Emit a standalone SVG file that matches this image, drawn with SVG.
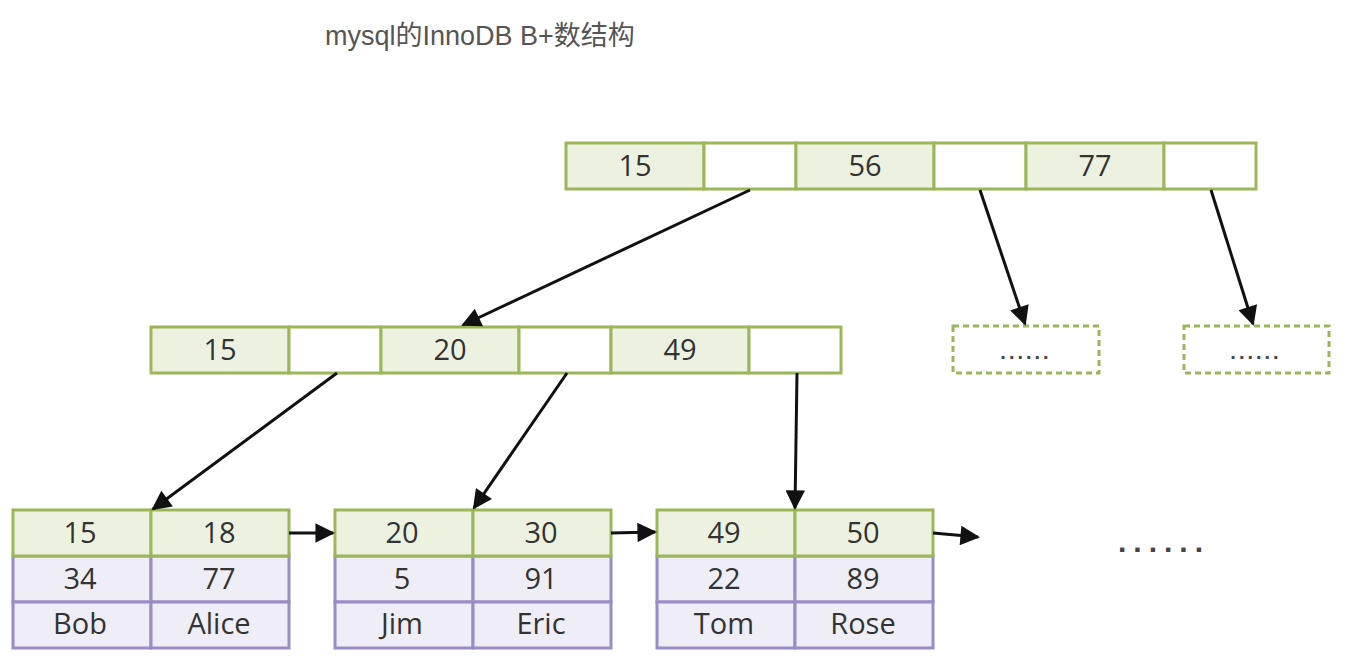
<svg xmlns="http://www.w3.org/2000/svg" width="1360" height="670" viewBox="0 0 1360 670">
<defs>
<style>
.g{fill:#edf2e0;stroke:#9bb75a;stroke-width:3}
.w{fill:#ffffff;stroke:#9bb75a;stroke-width:3}
.p{fill:#efedf5;stroke:#9a8cc4;stroke-width:3}
.d{fill:#ffffff;stroke:#9bb75a;stroke-width:3;stroke-dasharray:6 4}
.t{font-family:"Open Sans","Noto Sans","DejaVu Sans",sans-serif;font-size:29px;fill:#333;text-anchor:middle}
.dots{font-family:"Liberation Sans",sans-serif;font-size:20px;font-weight:bold;fill:#444;text-anchor:middle;letter-spacing:3px}
.c{stroke:#111;stroke-width:3;fill:none;marker-end:url(#ah)}
</style>
<marker id="ah" viewBox="0 0 10 10" refX="9" refY="5" markerWidth="7.5" markerHeight="6.5" orient="auto" markerUnits="strokeWidth">
<path d="M0,0 L10,5 L0,10 z" fill="#111"/>
</marker>
</defs>
<rect width="1360" height="670" fill="#fff"/>
<text x="325" y="45" font-family="'Liberation Sans','Noto Sans CJK SC',sans-serif" font-size="27" fill="#555">mysql的InnoDB B+数结构</text>

<g id="root">
<rect class="g" x="566" y="143" width="138" height="46"/>
<rect class="w" x="704" y="143" width="92" height="46"/>
<rect class="g" x="796" y="143" width="138" height="46"/>
<rect class="w" x="934" y="143" width="92" height="46"/>
<rect class="g" x="1026" y="143" width="138" height="46"/>
<rect class="w" x="1164" y="143" width="92" height="46"/>
<text class="t" x="635" y="176">15</text>
<text class="t" x="865" y="176">56</text>
<text class="t" x="1095" y="176">77</text>
</g>

<g id="mid">
<rect class="g" x="151" y="327" width="138" height="46"/>
<rect class="w" x="289" y="327" width="92" height="46"/>
<rect class="g" x="381" y="327" width="138" height="46"/>
<rect class="w" x="519" y="327" width="92" height="46"/>
<rect class="g" x="611" y="327" width="138" height="46"/>
<rect class="w" x="749" y="327" width="92" height="46"/>
<text class="t" x="220" y="360">15</text>
<text class="t" x="450" y="360">20</text>
<text class="t" x="680" y="360">49</text>
</g>

<g id="dash1">
<rect class="d" x="953" y="326" width="146" height="47"/>
<text class="dots" x="1026" y="359">......</text>
</g>
<g id="dash2">
<rect class="d" x="1184" y="326" width="145" height="47"/>
<text class="dots" x="1256" y="359">......</text>
</g>

<g id="leaf1">
<rect class="p" x="13" y="556" width="138" height="46"/>
<rect class="p" x="151" y="556" width="138" height="46"/>
<rect class="p" x="13" y="602" width="138" height="46"/>
<rect class="p" x="151" y="602" width="138" height="46"/>
<rect class="g" x="13" y="510" width="138" height="46"/>
<rect class="g" x="151" y="510" width="138" height="46"/>
<text class="t" x="80" y="543">15</text>
<text class="t" x="219" y="543">18</text>
<text class="t" x="80" y="589">34</text>
<text class="t" x="219" y="589">77</text>
<text class="t" x="80" y="634">Bob</text>
<text class="t" x="219" y="634">Alice</text>
</g>

<g id="leaf2">
<rect class="p" x="335" y="556" width="138" height="46"/>
<rect class="p" x="473" y="556" width="138" height="46"/>
<rect class="p" x="335" y="602" width="138" height="46"/>
<rect class="p" x="473" y="602" width="138" height="46"/>
<rect class="g" x="335" y="510" width="138" height="46"/>
<rect class="g" x="473" y="510" width="138" height="46"/>
<text class="t" x="402" y="543">20</text>
<text class="t" x="541" y="543">30</text>
<text class="t" x="402" y="589">5</text>
<text class="t" x="541" y="589">91</text>
<text class="t" x="402" y="634">Jim</text>
<text class="t" x="541" y="634">Eric</text>
</g>

<g id="leaf3">
<rect class="p" x="657" y="556" width="138" height="46"/>
<rect class="p" x="795" y="556" width="138" height="46"/>
<rect class="p" x="657" y="602" width="138" height="46"/>
<rect class="p" x="795" y="602" width="138" height="46"/>
<rect class="g" x="657" y="510" width="138" height="46"/>
<rect class="g" x="795" y="510" width="138" height="46"/>
<text class="t" x="724" y="543">49</text>
<text class="t" x="863" y="543">50</text>
<text class="t" x="724" y="589">22</text>
<text class="t" x="863" y="589">89</text>
<text class="t" x="724" y="634">Tom</text>
<text class="t" x="863" y="634">Rose</text>
</g>

<text id="more" class="dots" x="1164" y="552" style="font-size:30px;letter-spacing:7px">......</text>

<g id="connectors">
<line class="c" x1="750" y1="190" x2="463" y2="325"/>
<line class="c" x1="980" y1="190" x2="1025" y2="324"/>
<line class="c" x1="1211" y1="190" x2="1253" y2="324"/>
<line class="c" x1="337" y1="373" x2="153" y2="509"/>
<line class="c" x1="567" y1="373" x2="474" y2="508"/>
<line class="c" x1="797" y1="373" x2="795" y2="508"/>
<line class="c" x1="289" y1="533" x2="333" y2="533"/>
<line class="c" x1="611" y1="533" x2="655" y2="532"/>
<line class="c" x1="933" y1="533" x2="978" y2="537"/>
</g>
</svg>
